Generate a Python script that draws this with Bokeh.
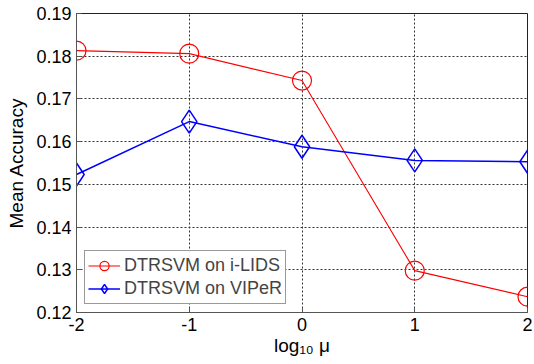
from bokeh.plotting import figure
from bokeh.models import Legend, LegendItem, FixedTicker, CustomJSTickFormatter
from bokeh.embed import file_html
from bokeh.resources import INLINE

mu_log = [-2, -1, 0, 1, 2]
ilids = [0.1813, 0.1806, 0.1743, 0.1298, 0.1237]
viper = [0.1523, 0.1647, 0.1588, 0.1556, 0.1553]
x_ticks = [-2, -1, 0, 1, 2]
y_ticks = [0.12, 0.13, 0.14, 0.15, 0.16, 0.17, 0.18, 0.19]

FONT = "Liberation Sans"

p = figure(width=534, height=364, output_backend="svg", toolbar_location=None,
           x_range=(-2, 2), y_range=(0.12, 0.19),
           min_border_left=76, min_border_right=7, min_border_top=13, min_border_bottom=52)
p.outline_line_color = "#222222"
p.outline_line_width = 1
p.background_fill_color = "white"
p.border_fill_color = "white"

for ax in (p.xaxis[0], p.yaxis[0]):
    ax.major_tick_in = 5
    ax.major_tick_out = 0
    ax.minor_tick_line_color = None
    ax.axis_line_color = "#555555"
    ax.major_tick_line_color = "#555555"
    ax.major_label_text_font = FONT
    ax.major_label_text_font_size = "18px"
    ax.major_label_text_color = "black"
    ax.axis_label_text_font = FONT
    ax.axis_label_text_font_size = "19px"
    ax.axis_label_text_font_style = "normal"
    ax.axis_label_text_color = "black"

p.xaxis.ticker = FixedTicker(ticks=x_ticks)
p.yaxis.ticker = FixedTicker(ticks=y_ticks)
p.xaxis.formatter = CustomJSTickFormatter(code="return tick.toString();")
p.yaxis.formatter = CustomJSTickFormatter(code="return tick.toFixed(2);")
p.xaxis.axis_label = "log\u2081\u2080 \u03bc"
p.yaxis.axis_label = "Mean Accuracy"
p.xaxis.major_label_standoff = 5
p.yaxis.major_label_standoff = 5
p.xaxis.axis_label_standoff = 1
p.yaxis.axis_label_standoff = 6

p.grid.grid_line_color = "#333333"
p.grid.grid_line_dash = "2 2"
p.grid.grid_line_width = 1

r1l = p.line(mu_log, ilids, line_color="red", line_width=1.1)
r1m = p.scatter(mu_log, ilids, marker="circle", size=19, fill_color=None,
                line_color="red", line_width=1.2)
r2l = p.line(mu_log, viper, line_color="blue", line_width=1.5)
r2m = p.scatter(mu_log, viper, marker="diamond", size=23, fill_color=None,
                line_color="blue", line_width=1.5)

legend = Legend(items=[LegendItem(label="DTRSVM on i-LIDS", renderers=[r1l, r1m]),
                       LegendItem(label="DTRSVM on VIPeR", renderers=[r2l, r2m])],
                location="bottom_left")
legend.label_text_font = FONT
legend.label_text_font_size = "18px"
legend.border_line_color = "#333333"
legend.border_line_width = 1
legend.margin = 8
legend.padding = 3
legend.spacing = 0
legend.glyph_width = 32
legend.glyph_height = 23
legend.label_standoff = 4
legend.label_height = 23
p.add_layout(legend)

open("out.html", "w").write(file_html(p, INLINE))
